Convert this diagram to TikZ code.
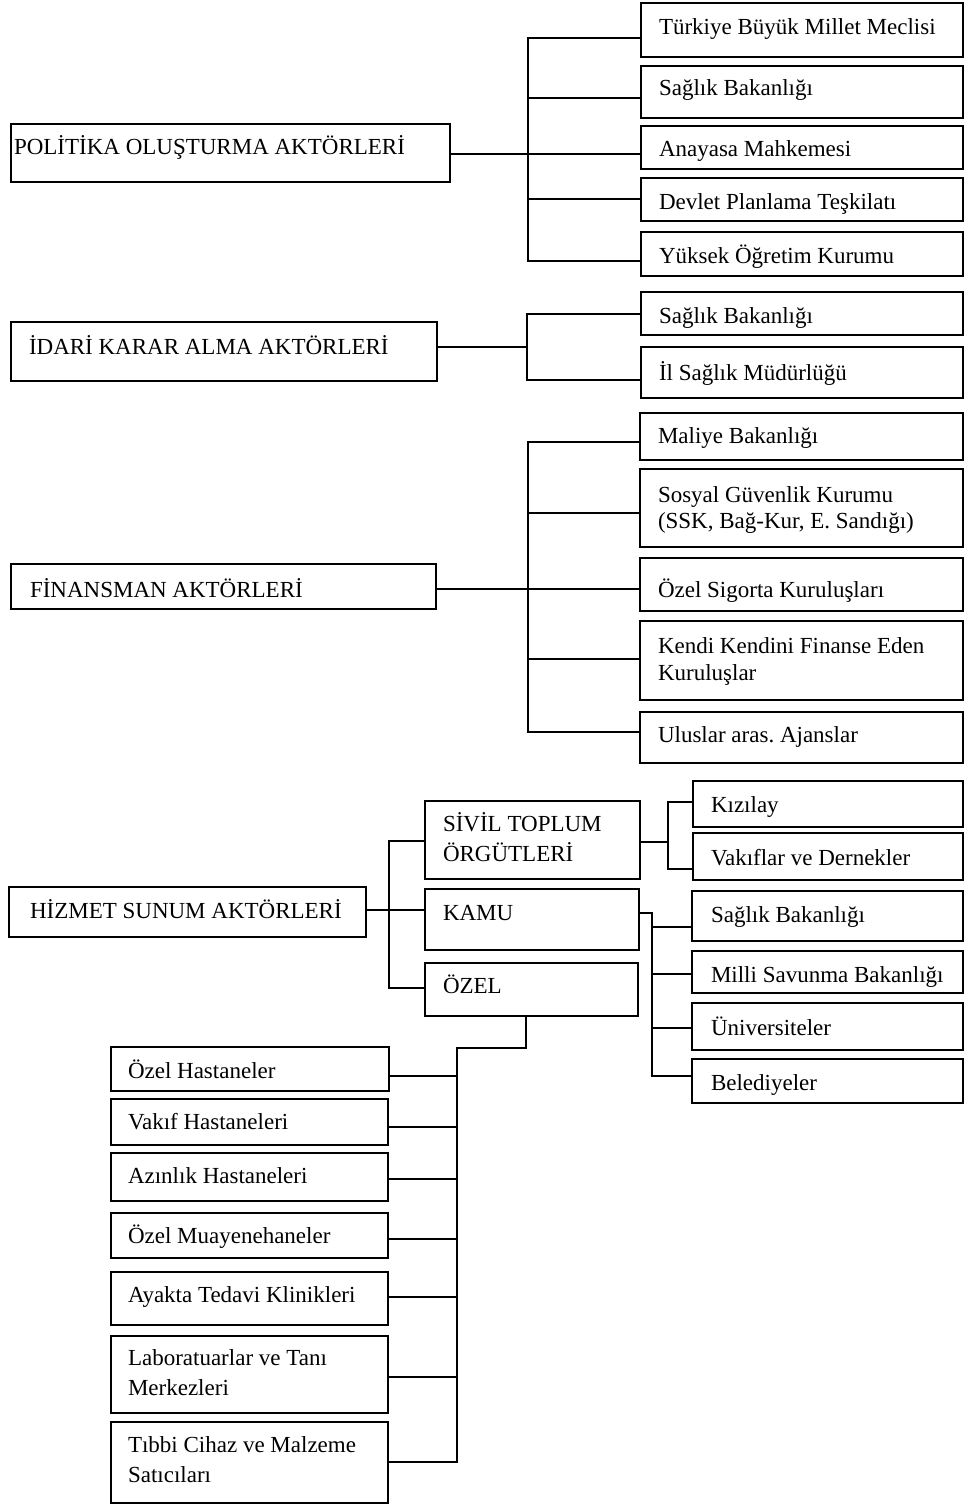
\documentclass[tikz,border=0pt]{standalone}
\usepackage{fontspec}
\setmainfont{Liberation Serif}
\frenchspacing
\tikzset{
  box/.style={draw, line width=1.6pt, inner sep=0pt, outer sep=0pt, anchor=north west},
  lbl/.style={inner sep=0pt, outer sep=0pt, anchor=base west, align=left, font=\fontsize{23}{28}\selectfont},
  conn/.style={line width=1.3pt}
}
\newcommand\bx[5]{\node[box, minimum width={(#4-#2)*1pt}, minimum height={(#5-#3)*1pt}] (#1) at (#2,#3) {};}
\begin{document}
\begin{tikzpicture}[x=1pt,y=-1pt]
\useasboundingbox (0,0) rectangle (965,1506);
% ---------- POLITIKA ----------
\bx{pol}{11}{124}{450}{182}
\bx{p1}{641}{3}{963}{57}
\bx{p2}{641}{66}{963}{118}
\bx{p3}{641}{126}{963}{169}
\bx{p4}{641}{178}{963}{221}
\bx{p5}{641}{232}{963}{276}
\node[lbl] (polt) at (14,155) {POLİTİKA OLUŞTURMA AKTÖRLERİ};
\node[lbl] (p1t) at (659,35) {Türkiye Büyük Millet Meclisi};
\node[lbl] (p2t) at (659,96) {Sağlık Bakanlığı};
\node[lbl] (p3t) at (659,157) {Anayasa Mahkemesi};
\node[lbl] (p4t) at (659,210) {Devlet Planlama Teşkilatı};
\node[lbl] (p5t) at (659,264) {Yüksek Öğretim Kurumu};
\coordinate (pb1) at (528,38);
\coordinate (pb2) at (528,98);
\coordinate (pb3) at (528,154);
\coordinate (pb4) at (528,199);
\coordinate (pb5) at (528,261);
\draw[conn] (pol.east |- pb3) -- (pb3 -| p3.west);
\draw[conn] (pb1 -| p1.west) -- (pb1) -- (pb5) -- (pb5 -| p5.west);
\draw[conn] (pb2) -- (pb2 -| p2.west);
\draw[conn] (pb4) -- (pb4 -| p4.west);
% ---------- IDARI ----------
\bx{ida}{11}{322}{437}{381}
\bx{i1}{641}{292}{963}{335}
\bx{i2}{641}{347}{963}{398}
\node[lbl] (idat) at (29,354) {İDARİ KARAR ALMA AKTÖRLERİ};
\node[lbl] (i1t) at (659,323) {Sağlık Bakanlığı};
\node[lbl] (i2t) at (659,380) {İl Sağlık Müdürlüğü};
\coordinate (ib1) at (527,314);
\coordinate (ib2) at (527,380);
\coordinate (ib0) at (527,347);
\draw[conn] (ida.east |- ib0) -- (ib0);
\draw[conn] (ib1 -| i1.west) -- (ib1) -- (ib2) -- (ib2 -| i2.west);
% ---------- FINANSMAN ----------
\bx{fin}{11}{564}{436}{609}
\bx{f1}{640}{413}{963}{460}
\bx{f2}{640}{469}{963}{547}
\bx{f3}{640}{558}{963}{611}
\bx{f4}{640}{621}{963}{700}
\bx{f5}{640}{712}{963}{763}
\node[lbl] (fint) at (30,597) {FİNANSMAN AKTÖRLERİ};
\node[lbl] (f1t) at (658,443) {Maliye Bakanlığı};
\node[lbl] (f2t) at (658,528) {Sosyal Güvenlik Kurumu\\[-2pt](SSK, Bağ-Kur, E. Sandığı)};
\node[lbl] (f3t) at (658,597) {Özel Sigorta Kuruluşları};
\node[lbl] (f4t) at (658,680) {Kendi Kendini Finanse Eden\\[-1pt]Kuruluşlar};
\node[lbl] (f5t) at (658,742) {Uluslar aras. Ajanslar};
\coordinate (fb1) at (528,442);
\coordinate (fb2) at (528,513);
\coordinate (fb3) at (528,589);
\coordinate (fb4) at (528,659);
\coordinate (fb5) at (528,732);
\draw[conn] (fin.east |- fb3) -- (fb3 -| f3.west);
\draw[conn] (fb1 -| f1.west) -- (fb1) -- (fb5) -- (fb5 -| f5.west);
\draw[conn] (fb2) -- (fb2 -| f2.west);
\draw[conn] (fb4) -- (fb4 -| f4.west);
% ---------- HIZMET ----------
\bx{hiz}{9}{887}{366}{937}
\bx{siv}{425}{801}{640}{879}
\bx{kam}{425}{889}{639}{950}
\bx{oze}{425}{963}{638}{1016}
\node[lbl] (hizt) at (30,918) {HİZMET SUNUM AKTÖRLERİ};
\node[lbl] (sivt) at (443,861) {SİVİL TOPLUM\\[2pt]ÖRGÜTLERİ};
\node[lbl] (kamt) at (443,920) {KAMU};
\node[lbl] (ozet) at (443,993) {ÖZEL};
\coordinate (hb1) at (389,841);
\coordinate (hb2) at (389,910);
\coordinate (hb3) at (389,988);
\draw[conn] (hiz.east |- hb2) -- (hb2 -| kam.west);
\draw[conn] (hb1 -| siv.west) -- (hb1) -- (hb3) -- (hb3 -| oze.west);
% sivil toplum children
\bx{s1}{693}{781}{963}{827}
\bx{s2}{693}{833}{963}{880}
\node[lbl] (s1t) at (711,812) {Kızılay};
\node[lbl] (s2t) at (711,865) {Vakıflar ve Dernekler};
\coordinate (sb1) at (668,802);
\coordinate (sb2) at (668,869);
\coordinate (sb0) at (668,842);
\draw[conn] (siv.east |- sb0) -- (sb0);
\draw[conn] (sb1 -| s1.west) -- (sb1) -- (sb2) -- (sb2 -| s2.west);
% kamu children
\bx{k1}{692}{891}{963}{941}
\bx{k2}{692}{951}{963}{993}
\bx{k3}{692}{1003}{963}{1050}
\bx{k4}{692}{1059}{963}{1103}
\node[lbl] (k1t) at (711,922) {Sağlık Bakanlığı};
\node[lbl] (k2t) at (711,982) {Milli Savunma Bakanlığı};
\node[lbl] (k3t) at (711,1035) {Üniversiteler};
\node[lbl] (k4t) at (711,1090) {Belediyeler};
\coordinate (kb0) at (652,913);
\coordinate (kb1) at (652,927);
\coordinate (kb2) at (652,974);
\coordinate (kb3) at (652,1028);
\coordinate (kb4) at (652,1076);
\draw[conn] (kam.east |- kb0) -- (kb0) -- (kb4) -- (kb4 -| k4.west);
\draw[conn] (kb1) -- (kb1 -| k1.west);
\draw[conn] (kb2) -- (kb2 -| k2.west);
\draw[conn] (kb3) -- (kb3 -| k3.west);
% ozel children
\bx{z1}{111}{1047}{389}{1091}
\bx{z2}{111}{1099}{388}{1145}
\bx{z3}{111}{1153}{388}{1201}
\bx{z4}{111}{1213}{388}{1258}
\bx{z5}{111}{1272}{388}{1325}
\bx{z6}{111}{1336}{388}{1413}
\bx{z7}{111}{1422}{388}{1503}
\node[lbl] (z1t) at (128,1078) {Özel Hastaneler};
\node[lbl] (z2t) at (128,1129) {Vakıf Hastaneleri};
\node[lbl] (z3t) at (128,1183) {Azınlık Hastaneleri};
\node[lbl] (z4t) at (128,1243) {Özel Muayenehaneler};
\node[lbl] (z5t) at (128,1302) {Ayakta Tedavi Klinikleri};
\node[lbl] (z6t) at (128,1395) {Laboratuarlar ve Tanı\\[2pt]Merkezleri};
\node[lbl] (z7t) at (128,1482) {Tıbbi Cihaz ve Malzeme\\[2pt]Satıcıları};
\coordinate (zt) at (526,1048);
\coordinate (zb0) at (457,1048);
\coordinate (zb1) at (457,1076);
\coordinate (zb2) at (457,1127);
\coordinate (zb3) at (457,1179);
\coordinate (zb4) at (457,1239);
\coordinate (zb5) at (457,1297);
\coordinate (zb6) at (457,1377);
\coordinate (zb7) at (457,1462);
\draw[conn] (oze.south -| zt) -- (zt) -- (zb0) -- (zb7) -- (zb7 -| z7.east);
\draw[conn] (zb1) -- (zb1 -| z1.east);
\draw[conn] (zb2) -- (zb2 -| z2.east);
\draw[conn] (zb3) -- (zb3 -| z3.east);
\draw[conn] (zb4) -- (zb4 -| z4.east);
\draw[conn] (zb5) -- (zb5 -| z5.east);
\draw[conn] (zb6) -- (zb6 -| z6.east);
\end{tikzpicture}
\end{document}
